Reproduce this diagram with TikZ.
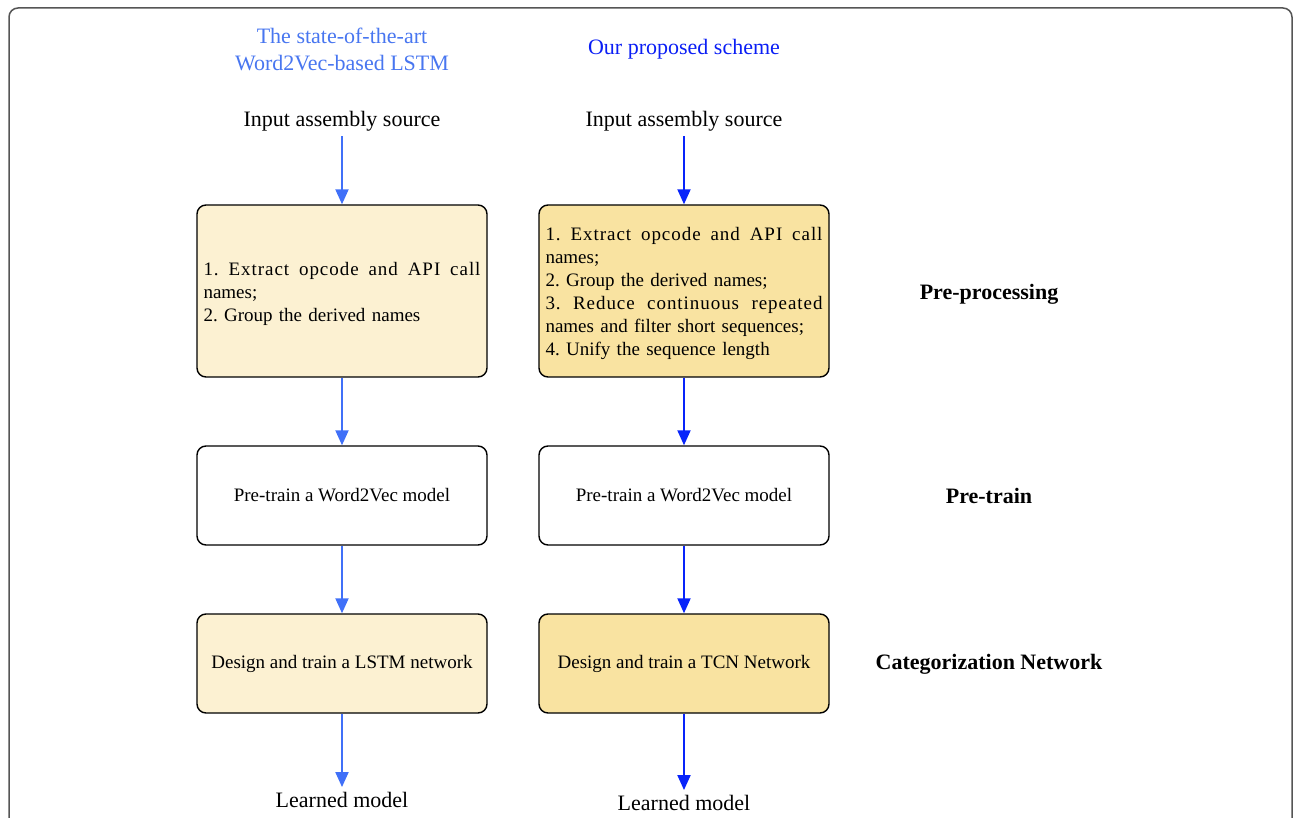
\documentclass[tikz,border=0pt]{standalone}
\usepackage{fontspec}
\setmainfont{Liberation Serif}
\usetikzlibrary{arrows.meta}
\frenchspacing
\definecolor{lblue}{RGB}{64,112,248}
\definecolor{rblue}{RGB}{8,36,250}
\definecolor{ltitle}{RGB}{72,118,240}
\definecolor{rtitle}{RGB}{10,30,245}
\definecolor{lfill}{RGB}{252,241,210}
\definecolor{rfill}{RGB}{249,227,161}
\definecolor{framec}{RGB}{85,85,85}
\newcommand{\jline}[1]{\leavevmode\hbox to 277pt{\addfontfeature{LetterSpace=5}#1}}
\newcommand{\topstrut}{\leavevmode\rule{0pt}{18.5pt}}
\tikzset{
  bigbox/.style={draw=black, line width=1.4pt, rounded corners=9pt,
    text width=277pt, inner xsep=6.5pt, minimum height=172pt, align=left,
    font=\fontsize{19}{23}\selectfont\frenchspacing},
  smallbox/.style={draw=black, line width=1.4pt, rounded corners=9pt,
    minimum width=290pt, minimum height=99pt, align=center,
    font=\fontsize{19}{23}\selectfont},
  plain/.style={font=\fontsize{22}{27}\selectfont, inner sep=5pt},
  lab/.style={font=\fontsize{22}{27}\selectfont\bfseries},
  larrow/.style={draw=lblue, line width=2pt, -{Triangle[length=15pt,width=13pt]}},
  rarrow/.style={draw=rblue, line width=2pt, -{Triangle[length=15pt,width=13pt]}},
}
\begin{document}
\begin{tikzpicture}[x=1pt,y=-1pt]
\useasboundingbox (0,0) rectangle (1294,818);
\clip (0,0) rectangle (1294,818);
\draw[framec, line width=1.5pt, rounded corners=9pt] (9,8) rectangle (1292,840);

% titles
\node[plain, text=ltitle, align=center] (lt) at (342,49) {The state-of-the-art\\Word2Vec-based LSTM};
\node[plain, text=rtitle] (rt) at (684,49) {Our proposed scheme};

% left column
\node[plain] (lin) at (342,121) {Input assembly source};
\node[bigbox, fill=lfill] (lb1) at (342,291) {\topstrut\jline{1.\hfill Extract\hfill opcode\hfill and\hfill API\hfill call}\\names;\\2. Group the derived names};
\node[smallbox, fill=white] (lb2) at (342,495.5) {Pre-train a Word2Vec model};
\node[smallbox, fill=lfill] (lb3) at (342,663.5) {Design and train a LSTM network};
\node[plain] (lout) at (342,800) {Learned model};

% right column
\node[plain] (rin) at (684,121) {Input assembly source};
\node[bigbox, fill=rfill] (rb1) at (684,291) {\topstrut\jline{1.\hfill Extract\hfill opcode\hfill and\hfill API\hfill call}\\names;\\2. Group the derived names;\\\jline{3.\hfill Reduce\hfill continuous\hfill repeated}\\names and filter short sequences;\\4. Unify the sequence length};
\node[smallbox, fill=white] (rb2) at (684,495.5) {Pre-train a Word2Vec model};
\node[smallbox, fill=rfill] (rb3) at (684,663.5) {Design and train a TCN Network};
\node[plain] (rout) at (684,803) {Learned model};

% stage labels
\node[lab] (s1) at (989,294) {Pre-processing};
\node[lab] (s2) at (989,496) {Pre-train};
\node[lab] (s3) at (989,664) {Categorization Network};

% arrows
\draw[larrow] (lin) -- (lb1);
\draw[larrow] (lb1) -- (lb2);
\draw[larrow] (lb2) -- (lb3);
\draw[larrow] (lb3) -- (lout);
\draw[rarrow] (rin) -- (rb1);
\draw[rarrow] (rb1) -- (rb2);
\draw[rarrow] (rb2) -- (rb3);
\draw[rarrow] (rb3) -- (rout);
\end{tikzpicture}
\end{document}
